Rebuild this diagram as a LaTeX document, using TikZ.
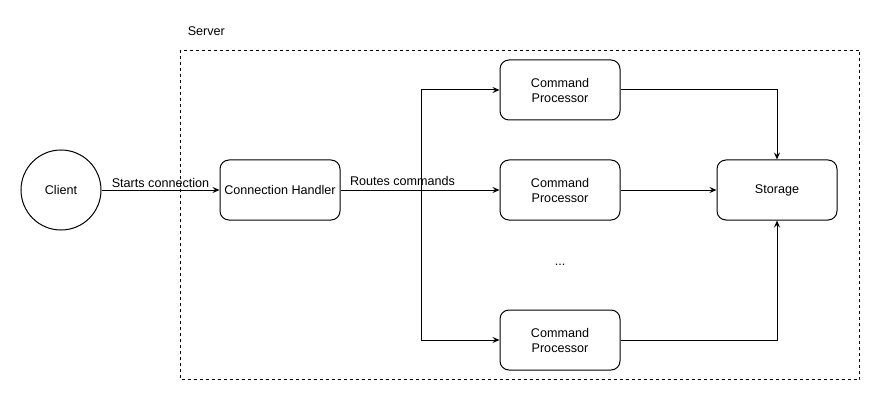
\documentclass[tikz,border=0pt]{standalone}
\usepackage{fontspec}
\setmainfont{Liberation Sans}
\usetikzlibrary{arrows.meta,positioning}
\begin{document}
\begin{tikzpicture}[x=1pt,y=-1pt,line width=1pt,
  font=\fontsize{12.6}{15}\selectfont,
  >={Stealth[length=7pt,width=6pt,inset=2.5pt]},
  block/.style={draw,rounded corners=9pt,minimum width=120pt,minimum height=60pt,
    align=center,inner sep=0pt},
  client/.style={draw,circle,minimum size=80pt,inner sep=0pt},
  serverbox/.style={draw,dash pattern=on 3pt off 3pt,line width=0.9pt}]
\useasboundingbox (0,0) rectangle (881,401);
% server frame
\draw[serverbox] (180.5,50.5) rectangle (859.5,379.5);
\node[anchor=west] (srv) at (184,31) {Server};
% nodes
\node[client] (client) at (61,190) {Client};
\node[block] (handler) at (280,190) {Connection Handler};
\node[block] (cp1) at (560,90) {Command\\Processor};
\node[block] (cp2) at (560,190) {Command\\Processor};
\node[block] (cp3) at (560,340) {Command\\Processor};
\node[block] (store) at (777,190) {Storage};
\node (dots) at (560,265) {...};
\coordinate (split) at (421,190);
% connectors
\draw[->] (client) -- node[above=-1pt] {Starts connection} (handler);
\draw[->] (handler) -- (cp2);
\node[anchor=south west,inner sep=0pt] (routes) at ([xshift=9pt,yshift=4pt]handler.east) {Routes commands};
\draw[->] (split) |- (cp1);
\draw[->] (split) |- (cp3);
\draw[->] (cp1) -| (store);
\draw[->] (cp2) -- (store);
\draw[->] (cp3) -| (store);
\end{tikzpicture}
\end{document}
